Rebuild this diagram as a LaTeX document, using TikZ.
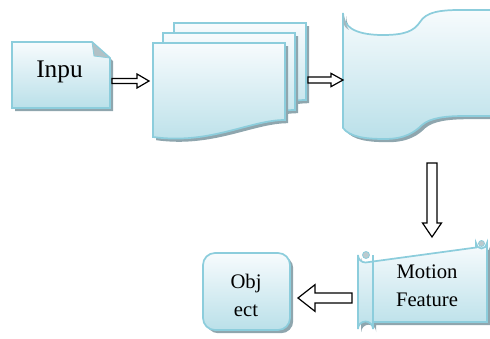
\documentclass[tikz,border=0pt]{standalone}
\usepackage{fontspec}
\setmainfont{Liberation Serif}
\newfontfamily\timesfont{Liberation Serif}
\usetikzlibrary{calc,shadows}
\definecolor{edgeblue}{RGB}{140,205,220}
\definecolor{filltop}{RGB}{247,251,253}
\definecolor{fillbot}{RGB}{186,224,233}
\definecolor{shadowgray}{RGB}{143,166,174}

\tikzset{
  shapebox/.style={draw=edgeblue, line width=1.3pt, top color=filltop, bottom color=fillbot,
    drop shadow={shadow xshift=2.4pt, shadow yshift=-2.4pt, fill=shadowgray, opacity=1}},
  txt/.style={inner sep=0pt, align=center, font=\timesfont\fontsize{15.5}{21}\selectfont},
  blockarrow/.style n args={3}{draw=black, fill=white, line width=0.9pt, line join=miter,
    to path={
      ($(\tikztostart)!#1!90:(\tikztotarget)$)
      -- ($($(\tikztotarget)!#3!(\tikztostart)$)!#1!90:(\tikztotarget)$)
      -- ($($(\tikztotarget)!#3!(\tikztostart)$)!#2!90:(\tikztotarget)$)
      -- (\tikztotarget)
      -- ($($(\tikztotarget)!#3!(\tikztostart)$)!#2!-90:(\tikztotarget)$)
      -- ($($(\tikztotarget)!#3!(\tikztostart)$)!#1!-90:(\tikztotarget)$)
      -- ($(\tikztostart)!#1!-90:(\tikztotarget)$)
      -- cycle}}
}

\begin{document}
\begin{tikzpicture}[x=0.75pt,y=-0.75pt]
  \useasboundingbox (0,0) rectangle (490,339);
  \clip (0,0) rectangle (490,339);

  % input page with folded corner
  \draw[shapebox] (12,42) -- (92,42) -- (110,58) -- (110,108) -- (12,108) -- cycle;
  \filldraw[fill=shadowgray!70, draw=edgeblue, line width=0.6pt] (92,42) -- (94,56) -- (110,58) -- cycle;
  \node[txt, font=\timesfont\fontsize{19}{21}\selectfont, anchor=base] (input) at (59.5,77) {Inpu};
  \coordinate (input-e) at (112,81);

  % stack of pages
  \foreach \dx/\dy in {21/-20,10/-10,0/0}
    \draw[shapebox, shift={(\dx,\dy)}] (153,43) -- (285,43) -- (285,120)
      .. controls (250,120) and (210,145) .. (153,137) -- cycle;
  \coordinate (docs-w) at (149,81);
  \coordinate (docs-e) at (308,80);

  % punched tape
  \draw[shapebox] (343,13) .. controls (343,25) and (352,35) .. (383,35)
    .. controls (405,35) and (414,31) .. (420,22)
    .. controls (426,12) and (440,10) .. (460,10) -- (500,10) -- (500,116) -- (465,116)
    .. controls (445,116) and (430,118) .. (422,125)
    .. controls (415,132) and (405,139) .. (385,139)
    .. controls (365,139) and (350,137) .. (343,128) -- cycle;
  \fill[shadowgray!80] (343.5,14) -- (343.5,24) .. controls (344,26) and (346,28) .. (349,30) .. controls (346,26) and (345,20) .. cycle;
  \coordinate (tape-w) at (343,80);
  \coordinate (tape-s) at (432,163);

  % scroll
  \draw[shapebox] (358,255) arc[start angle=180, end angle=90, radius=7.5] -- (476,247.5)
    -- (476,243) arc[start angle=180, end angle=0, radius=5.5] -- (487,322) -- (373,322)
    -- (373,329) arc[start angle=0, end angle=-180, radius=7.5] -- cycle;
  \draw[edgeblue, line width=1.3pt] (373,255) -- (373,329);
  \filldraw[fill=shadowgray!60, draw=edgeblue, line width=0.6pt] (366,255) circle[radius=3.5];
  \filldraw[fill=shadowgray!60, draw=edgeblue, line width=0.6pt] (481.5,243.5) circle[radius=3];
  \node[txt] (motion) at (427,286) {Motion\\Feature};
  \coordinate (scroll-n) at (432,237);
  \coordinate (scroll-w) at (352,298);

  % object
  \node[shapebox, rounded corners=9pt, minimum width=65.25pt, minimum height=57.75pt]
    (object) at (246.5,291.5) {};
  \node[txt] (object-text) at (246,295.5) {Obj\\ect};
  \coordinate (object-e) at (298,298);

  % arrows
  \draw[blockarrow={1.9pt}{5.25pt}{9pt}] (input-e) to (docs-w);
  \draw[blockarrow={2.2pt}{5pt}{9pt}] (docs-e) to (tape-w);
  \draw[blockarrow={3.75pt}{7.1pt}{10.5pt}] (tape-s) to (scroll-n);
  \draw[blockarrow={3.75pt}{10pt}{12.75pt}] (scroll-w) to (object-e);
\end{tikzpicture}
\end{document}
